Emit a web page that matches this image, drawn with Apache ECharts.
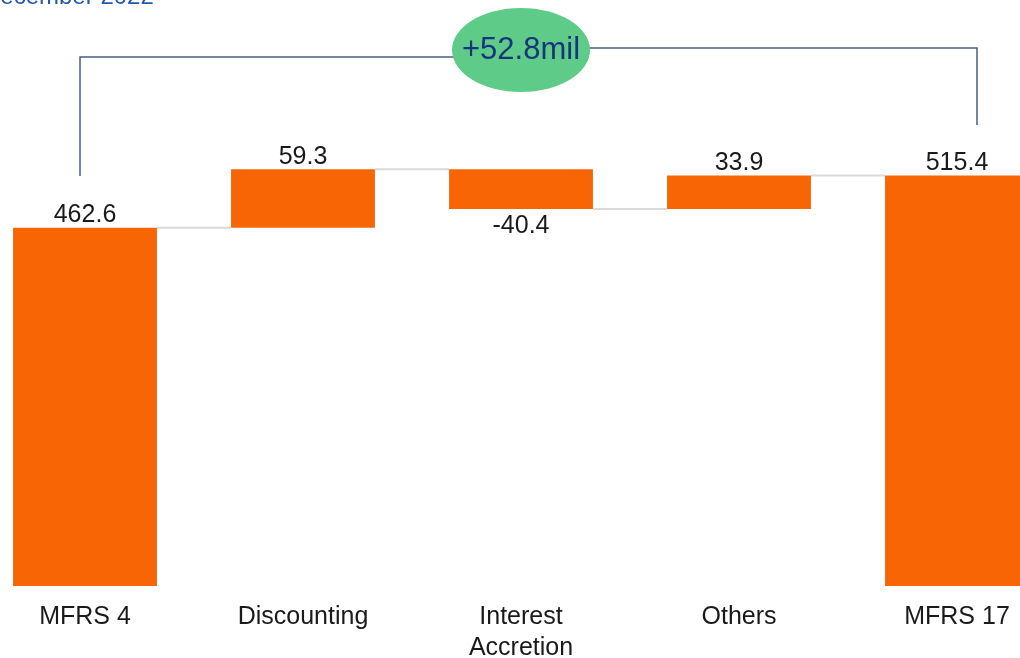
<!DOCTYPE html>
<html>
<head>
<meta charset="utf-8">
<script src="https://cdn.jsdelivr.net/npm/echarts@6/dist/echarts.min.js"></script>
<style>
  html, body { margin: 0; padding: 0; background: #fff; }
  #main { width: 1020px; height: 658px; }
</style>
</head>
<body>
<div id="main"></div>
<script>
// 数据
var categories = ['MFRS 4', 'Discounting', 'Interest\nAccretion', 'Others', 'MFRS 17'];
var values = [462.6, 59.3, -40.4, 33.9, 515.4];
var isTotal = [true, false, false, false, true];
var yMin = 100, yMax = 600;
var totalChange = '+52.8mil';

// 瀑布图的底座和高度
var baseArr = [], barArr = [], levelArr = [];
var running = 0;
for (var i = 0; i < values.length; i++) {
    if (isTotal[i]) {
        running = values[i];
        baseArr.push(0);
        barArr.push({ value: values[i], label: { position: 'top' } });
    } else if (values[i] >= 0) {
        baseArr.push(running);
        barArr.push({ value: values[i], label: { position: 'top' } });
        running = running + values[i];
    } else {
        running = running + values[i];
        baseArr.push(running);
        barArr.push({ value: -values[i], label: { position: 'bottom', distance: 5 } });
    }
    levelArr.push([i, running]);
}
levelArr.pop();

var chart = echarts.init(document.getElementById('main'));
var option = {
    animation: false,
    grid: { left: -24, right: -46, top: 92, bottom: 72, outerBoundsMode: 'none' },
    xAxis: {
        type: 'category',
        data: categories,
        axisLine: { show: false },
        axisTick: { show: false },
        axisLabel: {
            interval: 0,
            margin: 16,
            fontSize: 25,
            lineHeight: 31,
            color: '#1a1a1a',
            fontFamily: 'Liberation Sans, Arial, sans-serif',
            verticalAlign: 'top'
        }
    },
    yAxis: {
        type: 'value',
        min: yMin,
        max: yMax,
        show: false,
        splitLine: { show: false }
    },
    series: [
        {
            // 连接线
            type: 'custom',
            z: 1,
            data: levelArr,
            renderItem: function (params, api) {
                var p1 = api.coord([api.value(0), api.value(1)]);
                var band = api.size([1, 0])[0];
                var half = band * 0.33;
                return {
                    type: 'line',
                    shape: { x1: p1[0] + half, y1: p1[1], x2: p1[0] + band - half, y2: p1[1] },
                    style: { stroke: '#d9d9d9', lineWidth: 2 }
                };
            }
        },
        {
            type: 'bar',
            stack: 'wf',
            z: 2,
            barWidth: '66%',
            itemStyle: { color: 'transparent' },
            silent: true,
            data: baseArr
        },
        {
            type: 'bar',
            stack: 'wf',
            z: 2,
            barWidth: '66%',
            itemStyle: { color: '#f76505' },
            label: {
                show: true,
                distance: 0,
                fontSize: 25,
                color: '#1a1a1a',
                fontFamily: 'Liberation Sans, Arial, sans-serif',
                formatter: function (p) {
                    return values[p.dataIndex].toFixed(1);
                }
            },
            data: barArr
        }
    ],
    graphic: [
        {
            type: 'text',
            x: -17,
            y: -3,
            style: {
                text: 'December 2022',
                fontSize: 24,
                fill: '#2559a8',
                verticalAlign: 'middle',
                fontFamily: 'Liberation Sans, Arial, sans-serif'
            }
        },
        {
            type: 'polyline',
            shape: { points: [[80, 176], [80, 57], [455, 57]] },
            style: { stroke: '#4a5d82', lineWidth: 1.5, fill: null }
        },
        {
            type: 'polyline',
            shape: { points: [[588, 48], [977, 48], [977, 125]] },
            style: { stroke: '#4a5d82', lineWidth: 1.5, fill: null }
        },
        {
            type: 'ellipse',
            shape: { cx: 521, cy: 50, rx: 69, ry: 42 },
            style: { fill: '#5fcb88' }
        },
        {
            type: 'text',
            x: 521,
            y: 50,
            style: {
                text: totalChange,
                fontSize: 31,
                fill: '#17357a',
                align: 'center',
                verticalAlign: 'middle',
                fontFamily: 'Liberation Sans, Arial, sans-serif'
            }
        }
    ]
};
chart.setOption(option);
</script>
</body>
</html>
